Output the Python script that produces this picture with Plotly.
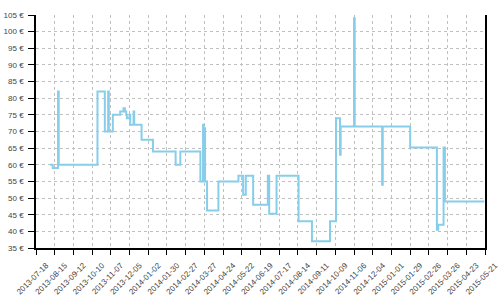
import plotly.graph_objects as go

dates = [
    "2013-08-08", "2013-08-12", "2013-08-20", "2013-08-21", "2013-10-18",
    "2013-10-29", "2013-11-03", "2013-11-04", "2013-11-10", "2013-11-21",
    "2013-11-26", "2013-11-28", "2013-11-30", "2013-12-01", "2013-12-05",
    "2013-12-06", "2013-12-11", "2013-12-12", "2013-12-23", "2014-01-09",
    "2014-02-12", "2014-02-19", "2014-03-21", "2014-03-25", "2014-03-26",
    "2014-03-27", "2014-03-28", "2014-03-31", "2014-04-17", "2014-05-17",
    "2014-05-24", "2014-05-28", "2014-06-08", "2014-06-30", "2014-07-02",
    "2014-07-13", "2014-08-15", "2014-09-04", "2014-10-01", "2014-10-10",
    "2014-10-16", "2014-10-17", "2014-11-06", "2014-11-07", "2014-12-18",
    "2014-12-19", "2015-01-29", "2015-03-10", "2015-03-12", "2015-03-20",
    "2015-03-22", "2015-05-20",
]
prices = [
    60, 59, 82, 60, 82,
    70, 82, 70, 75, 76,
    77, 76, 75, 74, 75,
    72, 76, 72, 67.5, 64,
    60, 64, 55, 72, 55,
    71, 55, 46.3, 55, 56.7,
    51, 56.7, 48, 56.7, 45.3,
    56.7, 43, 37, 43, 74,
    63, 71.5, 104, 71.5, 54,
    71.5, 65.2, 40.5, 42, 65.2,
    49, 49,
]

tick_start = "2013-07-18"
x_end = "2015-05-21"
y_ticks = list(range(35, 106, 5))
y_labels = [f"{v} €" for v in y_ticks]

fig = go.Figure()
fig.add_trace(go.Scatter(
    x=dates, y=prices, mode="lines", line_shape="hv",
    line=dict(color="#87CEEB", width=2), showlegend=False,
))

font = dict(family="Liberation Sans", size=8, color="#444444")
fig.update_layout(
    width=500, height=300,
    margin=dict(l=36, r=15, t=15, b=52, autoexpand=False),
    paper_bgcolor="white", plot_bgcolor="white",
    font=font,
)
fig.update_xaxes(
    type="date", range=[tick_start, x_end], automargin=False,
    tick0=tick_start, dtick=28 * 86400000, tickformat="%Y-%m-%d",
    tickangle=-45, ticks="outside", ticklen=5, tickcolor="black",
    ticklabelshift=10, ticklabelstandoff=3,
    showline=True, linecolor="black", linewidth=1.5,
    showgrid=True, gridcolor="#c0c0c0", griddash="3px,3px", gridwidth=1,
    zeroline=False, tickfont=font,
)
fig.update_yaxes(
    range=[35, 105], tickvals=y_ticks, ticktext=y_labels, automargin=False,
    ticks="outside", ticklen=6, tickcolor="black", ticklabelstandoff=3,
    showline=True, linecolor="black", linewidth=1.5, mirror=True,
    showgrid=True, gridcolor="#c0c0c0", griddash="3px,3px", gridwidth=1,
    zeroline=False, tickfont=font,
)
fig.write_html("out.html")
